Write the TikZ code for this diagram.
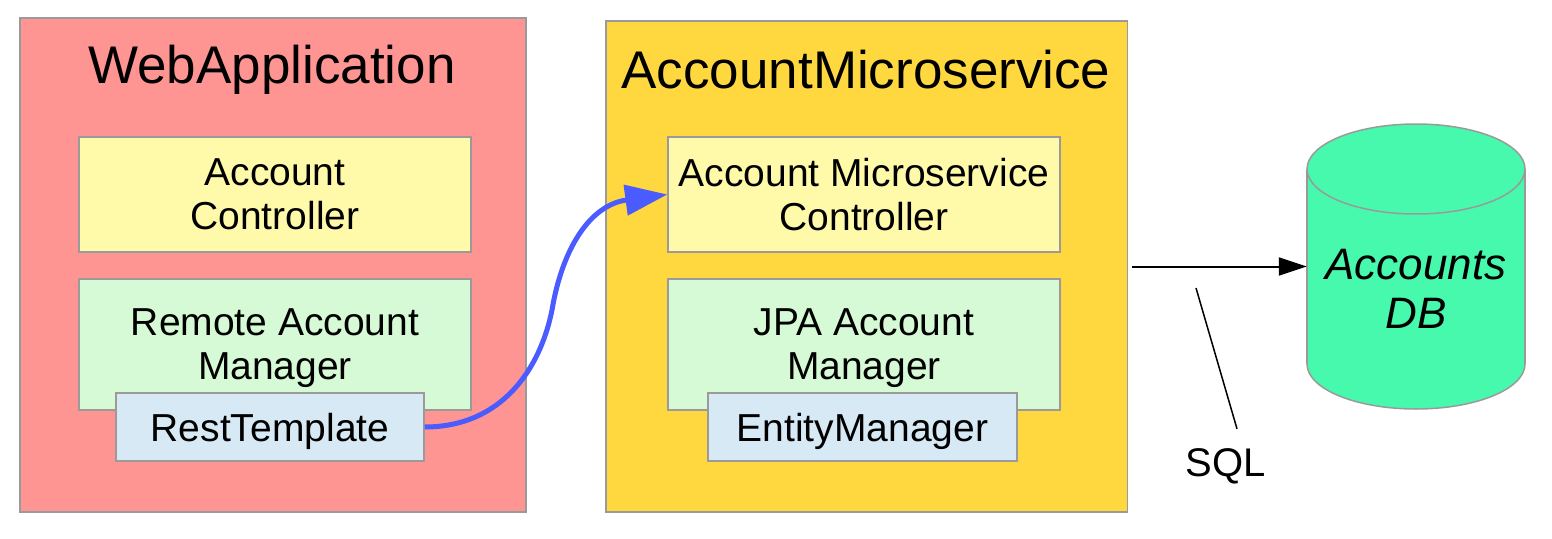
\documentclass[tikz,border=0pt]{standalone}
\usepackage{fontspec}
\setmainfont{Liberation Sans}
\usetikzlibrary{arrows.meta}
\definecolor{webpink}{HTML}{FF9593}
\definecolor{msgold}{HTML}{FFD840}
\definecolor{ctlyellow}{HTML}{FFFAAA}
\definecolor{mgrgreen}{HTML}{D6FAD6}
\definecolor{toolblue}{HTML}{D7E9F5}
\definecolor{dbgreen}{HTML}{46F9AC}
\definecolor{callblue}{HTML}{4A5CFF}
\definecolor{edgegray}{HTML}{9A9A9A}
\tikzset{
  outerbox/.style={draw=edgegray, line width=1.5pt, rectangle, inner sep=0pt},
  innerbox/.style={draw=edgegray, line width=1.5pt, rectangle, inner sep=0pt, align=center,
    font=\fontsize{39}{44}\selectfont, minimum width=392pt},
  toolbox/.style={draw=edgegray, line width=1.5pt, fill=toolblue, rectangle, inner sep=0pt,
    font=\fontsize{39}{44}\selectfont, minimum height=68pt, text depth=0pt},
  titletext/.style={anchor=base, inner sep=0pt, font=\fontsize{53}{60}\selectfont},
  callarrow/.style={draw=callblue, line width=5pt, -{Triangle[length=42pt,width=30pt]}},
  sqlarrow/.style={draw=black, line width=2pt, -{Triangle[length=28pt,width=18pt]}},
  leader/.style={draw=black, line width=1.5pt},
}
\begin{document}
\begin{tikzpicture}[x=1pt,y=-1pt]
\useasboundingbox (0,0) rectangle (1552,538);
% outer containers
\node[outerbox, fill=webpink, minimum width=506pt, minimum height=494pt] (web) at (273,265) {};
\node[outerbox, fill=msgold, minimum width=521.5pt, minimum height=491pt] (ams) at (866.75,266.5) {};
\node[titletext] (webtitle) at (272,83) {WebApplication};
\node[titletext] (amstitle) at (866,88) {AccountMicroservice};
% web application components
\node[innerbox, fill=ctlyellow, minimum height=115pt] (ac) at (275,194.5) {Account\\Controller};
\node[innerbox, fill=mgrgreen, minimum height=131pt] (ram) at (275,344.5) {Remote Account\\\smash{Manager}};
\node[toolbox, minimum width=308pt] (rt) at (270,427) {RestTemplate};
% microservice components
\node[innerbox, fill=ctlyellow, minimum height=115pt] (msc) at (864,194.5) {Account Microservice\\Controller};
\node[innerbox, fill=mgrgreen, minimum height=131pt] (jpa) at (864,344.5) {JPA Account\\\smash{Manager}};
\node[toolbox, minimum width=309pt] (em) at (862.5,427) {EntityManager};
% database cylinder
\filldraw[fill=dbgreen, draw=edgegray, line width=1.5pt] (1416,364) ellipse [x radius=109, y radius=45];
\fill[dbgreen] (1307,169) rectangle (1525,364);
\draw[edgegray, line width=1.5pt] (1307,169) -- (1307,364) (1525,169) -- (1525,364);
\filldraw[fill=dbgreen, draw=edgegray, line width=1.5pt] (1416,169) ellipse [x radius=109, y radius=45];
\node[inner sep=0pt, align=center, minimum width=218pt, font=\fontsize{44}{49}\selectfont\itshape] (db) at (1416,289) {Accounts\\DB};
% connectors
\coordinate (bend) at (552,310);
\draw[callarrow] (rt.east) .. controls +(76,0) and +(-12,60) .. (bend)
  .. controls +(10,-60) and +(-78,10.5) .. (msc.west);
\draw[sqlarrow] ([xshift=4pt]ams.east) -- (ams.east -| db.west);
\node[inner sep=0pt, anchor=base, font=\fontsize{40}{46}\selectfont] (sql) at (1225.5,476) {SQL};
\coordinate (sqltop) at (1196,288);
\draw[leader] ([shift={(11.5,-19)}]sql.north) -- (sqltop);
\end{tikzpicture}
\end{document}
